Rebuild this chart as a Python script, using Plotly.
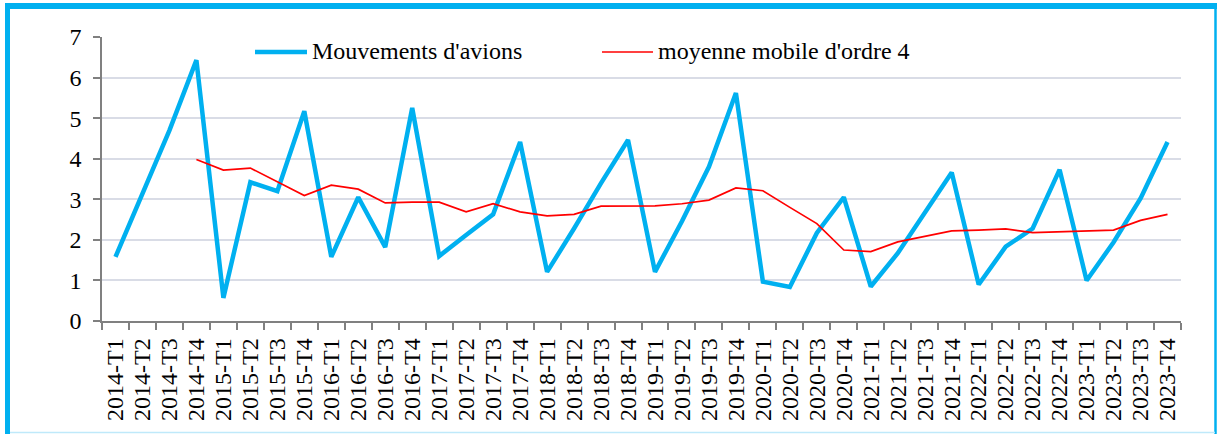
import plotly.graph_objects as go

categories = [f"{y}-T{q}" for y in range(2014, 2024) for q in range(1, 5)]

mouvements = [1.58, 3.15, 4.70, 6.43,
              0.57, 3.42, 3.20, 5.17,
              1.58, 3.05, 1.82, 5.25,
              1.60, 2.12, 2.63, 4.41,
              1.21, 2.28, 3.40, 4.46,
              1.21, 2.46, 3.80, 5.62,
              0.97, 0.84, 2.17, 3.05,
              0.85, 1.67, 2.66, 3.66,
              0.90, 1.83, 2.28, 3.73,
              1.00, 1.94, 3.02, 4.41]

moyenne_mobile = [None, None, None, 3.98,
                  3.72, 3.77, 3.42, 3.09,
                  3.35, 3.25, 2.91, 2.93,
                  2.93, 2.69, 2.89, 2.69,
                  2.59, 2.63, 2.83, 2.84,
                  2.84, 2.89, 2.98, 3.28,
                  3.21, 2.80, 2.40, 1.75,
                  1.71, 1.95, 2.08, 2.22,
                  2.24, 2.27, 2.18, 2.20,
                  2.22, 2.24, 2.48, 2.63]

y_ticks = [0, 1, 2, 3, 4, 5, 6, 7]

name_a = "Mouvements d'avions"
name_b = "moyenne mobile d'ordre 4"

BLUE = "#00B0F0"
RED = "#FF0000"
FONT = "Liberation Serif"
FS = 24

W, H = 1217, 434
L, R, T, B = 102, 36, 37, 113
pw, ph = W - L - R, H - T - B

def px(x):
    return (x - L) / pw

def py(y):
    return (H - B - y) / ph

fig = go.Figure()
fig.add_trace(go.Scatter(x=categories, y=mouvements, mode="lines", name=name_a,
                         line=dict(color=BLUE, width=4.5), showlegend=False))
fig.add_trace(go.Scatter(x=categories, y=moyenne_mobile, mode="lines", name=name_b,
                         line=dict(color=RED, width=1.7), showlegend=False))

shapes = []
# legend samples
shapes.append(dict(type="line", xref="paper", yref="paper",
                   x0=px(255), x1=px(307), y0=py(52), y1=py(52),
                   line=dict(color=BLUE, width=4.5)))
shapes.append(dict(type="line", xref="paper", yref="paper",
                   x0=px(602), x1=px(653), y0=py(52), y1=py(52),
                   line=dict(color=RED, width=1.7)))
# outer frame
shapes.append(dict(type="line", xref="paper", yref="paper",
                   x0=px(5), x1=px(1217), y0=py(6), y1=py(6),
                   line=dict(color=BLUE, width=6)))
shapes.append(dict(type="line", xref="paper", yref="paper",
                   x0=px(7.5), x1=px(7.5), y0=py(3), y1=py(434),
                   line=dict(color=BLUE, width=5)))
shapes.append(dict(type="line", xref="paper", yref="paper",
                   x0=px(1215.5), x1=px(1215.5), y0=py(3), y1=py(434),
                   line=dict(color=BLUE, width=2.5)))
shapes.append(dict(type="line", xref="paper", yref="paper",
                   x0=px(10), x1=px(1215), y0=py(432.5), y1=py(432.5),
                   line=dict(color="#BFE9FA", width=1.5)))

annotations = [
    dict(text=name_a, xref="paper", yref="paper", x=px(310), y=py(51),
         xanchor="left", yanchor="middle", showarrow=False,
         font=dict(family=FONT, size=FS, color="black")),
    dict(text=name_b, xref="paper", yref="paper", x=px(656), y=py(51),
         xanchor="left", yanchor="middle", showarrow=False,
         font=dict(family=FONT, size=FS, color="black")),
]

fig.update_layout(
    width=W, height=H,
    margin=dict(l=L, r=R, t=T, b=B),
    paper_bgcolor="white", plot_bgcolor="white",
    font=dict(family=FONT, size=FS, color="black"),
    shapes=shapes, annotations=annotations,
    showlegend=False,
)
fig.update_xaxes(
    type="category", categoryorder="array", categoryarray=categories,
    tickmode="array", tickvals=categories, ticktext=categories,
    tickangle=-90, tickson="boundaries", ticks="outside", ticklen=7,
    tickcolor="#808080", tickwidth=1.5,
    showline=True, linecolor="#808080", linewidth=1.5,
    showgrid=False, ticklabelstandoff=6, automargin=False,
    tickfont=dict(family=FONT, size=FS, color="black"),
    range=[-0.5, len(categories) - 0.5],
)
fig.update_yaxes(
    range=[0, 7], tickvals=y_ticks, ticktext=[str(v) for v in y_ticks],
    ticks="outside", ticklen=7, tickcolor="#808080", tickwidth=1.5,
    showline=True, linecolor="#808080", linewidth=1.5,
    showgrid=True, gridcolor="#D9DCE6", gridwidth=2, zeroline=False,
    ticklabelstandoff=7, automargin=False,
    tickfont=dict(family=FONT, size=FS, color="black"),
)

fig.write_html("out.html", config={"displayModeBar": False},
               post_script="document.body.style.margin='0';document.body.style.padding='0';")
